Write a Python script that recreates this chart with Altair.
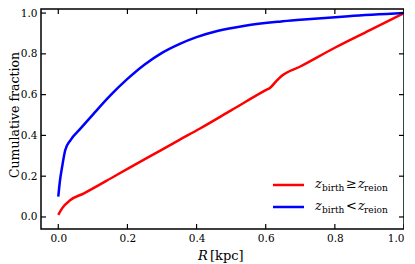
import altair as alt
import pandas as pd

# --- data ---
r_red = [0.0, 0.011, 0.035, 0.073, 0.17, 0.266, 0.348, 0.41, 0.5, 0.6, 0.613, 0.63, 0.645, 0.7, 0.8, 0.9, 1.0]
f_red = [0.01, 0.042, 0.083, 0.115, 0.207, 0.298, 0.376, 0.434, 0.523, 0.622, 0.634, 0.665, 0.69, 0.738, 0.83, 0.915, 1.0]

r_blue = [0.0, 0.005, 0.011, 0.02, 0.035, 0.064, 0.102, 0.15, 0.2, 0.25, 0.3, 0.35, 0.4, 0.46, 0.54, 0.64, 0.7, 0.84, 1.0]
f_blue = [0.1, 0.18, 0.245, 0.327, 0.376, 0.433, 0.506, 0.595, 0.677, 0.748, 0.805, 0.848, 0.882, 0.912, 0.938, 0.958, 0.967, 0.985, 1.0]

x_ticks = [0.0, 0.2, 0.4, 0.6, 0.8, 1.0]
y_ticks = [0.0, 0.2, 0.4, 0.6, 0.8, 1.0]

df = pd.concat([
    pd.DataFrame({"R": r_red, "F": f_red, "s": "red", "o": range(len(r_red))}),
    pd.DataFrame({"R": r_blue, "F": f_blue, "s": "blue", "o": range(len(r_blue))}),
])

W, H = 363, 220
FONT = "DejaVu Serif"
xs = alt.Scale(domain=[-0.05, 1.0], nice=False, zero=False)
ys = alt.Scale(domain=[-0.059, 1.02], nice=False, zero=False)

xaxis = alt.Axis(values=x_ticks, format=".1f", title=None,
                 ticks=False, domain=False, grid=False,
                 labelPadding=4, labelFontSize=10.5, labelFont=FONT, labelColor="black")
yaxis = alt.Axis(values=y_ticks, format=".1f", title=None,
                 ticks=False, domain=False, grid=False,
                 labelPadding=4, labelFontSize=10.5, labelFont=FONT, labelColor="black")

lines = alt.Chart(df).mark_line(strokeWidth=2.5, clip=True, interpolate="monotone").encode(
    x=alt.X("R:Q", scale=xs, axis=xaxis),
    y=alt.Y("F:Q", scale=ys, axis=yaxis),
    color=alt.Color("s:N", scale=alt.Scale(domain=["red", "blue"], range=["#ff0000", "#0000ff"]), legend=None),
    order="o:Q",
)

xt = pd.DataFrame({"R": x_ticks})
yt = pd.DataFrame({"F": y_ticks})
tick_style = dict(color="black", strokeWidth=1.2)
xb = alt.Chart(xt).mark_rule(**tick_style).encode(x=alt.X("R:Q", scale=xs, axis=xaxis), y=alt.value(H), y2=alt.value(H - 5))
xtop = alt.Chart(xt).mark_rule(**tick_style).encode(x=alt.X("R:Q", scale=xs, axis=xaxis), y=alt.value(0), y2=alt.value(5))
yl = alt.Chart(yt).mark_rule(**tick_style).encode(y=alt.Y("F:Q", scale=ys, axis=yaxis), x=alt.value(0), x2=alt.value(5))
yr = alt.Chart(yt).mark_rule(**tick_style).encode(y=alt.Y("F:Q", scale=ys, axis=yaxis), x=alt.value(W), x2=alt.value(W - 5))

one = pd.DataFrame({"a": [0]})


def txt(t, x, y, size, style="normal", align="left", angle=0):
    return alt.Chart(one).mark_text(text=t, font=FONT, fontSize=size, fontStyle=style, angle=angle,
                                    align=align, baseline="middle", color="black").encode(
        x=alt.value(x), y=alt.value(y))


def seg(color, y):
    return alt.Chart(one).mark_rule(color=color, strokeWidth=2.5).encode(
        x=alt.value(232), x2=alt.value(263), y=alt.value(y))


LY1, LY2 = 176, 198
legend = [
    seg("#ff0000", LY1),
    txt("z", 274, LY1 - 1, 13, "italic"),
    txt("birth", 281, LY1 + 3, 9),
    txt("≥", 305, LY1 - 1, 13),
    txt("z", 317, LY1 - 1, 13, "italic"),
    txt("reion", 323, LY1 + 3, 9),
    seg("#0000ff", LY2),
    txt("z", 274, LY2 - 1, 13, "italic"),
    txt("birth", 281, LY2 + 3, 9),
    txt("<", 305, LY2 - 1, 13),
    txt("z", 317, LY2 - 1, 13, "italic"),
    txt("reion", 323, LY2 + 3, 9),
]

titles = [
    txt("R", 157, 247, 13, "italic"),
    txt("[kpc]", 169, 247, 13),
    txt("Cumulative fraction", -26, 106, 12.5, align="center", angle=270),
]

chart = alt.layer(lines, xb, xtop, yl, yr, *legend, *titles).properties(
    width=W, height=H,
    autosize=alt.AutoSizeParams(type="none"),
    padding={"left": 33, "top": 1, "right": 0, "bottom": 35},
).configure(background="white").configure_view(stroke="black", strokeWidth=1.5)

chart.save("out.html", embed_options={"renderer": "svg", "actions": False})
